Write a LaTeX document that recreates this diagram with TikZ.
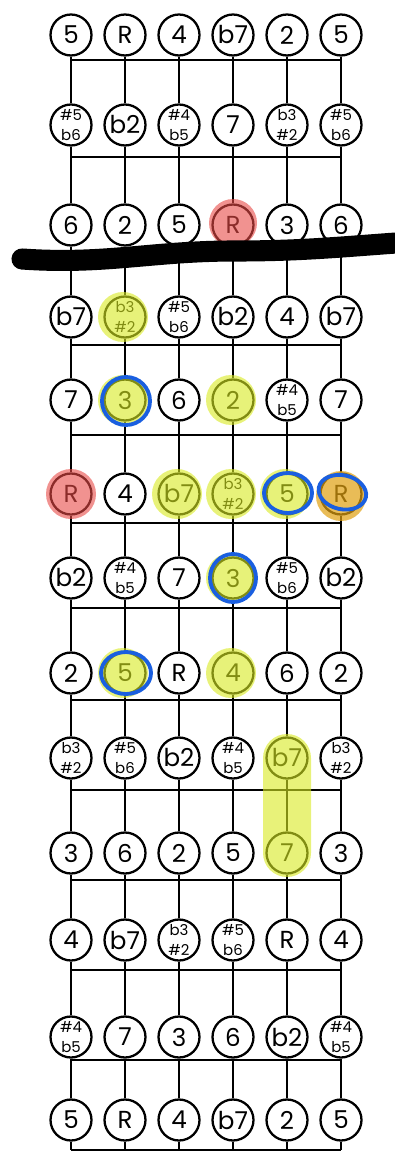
\documentclass[tikz,border=0pt]{standalone}
\usepackage{fontspec}
\setmainfont{Poppins}
\usetikzlibrary{calc}
\definecolor{hlyel}{HTML}{D8EA20}
\definecolor{hlred}{HTML}{E84A46}
\definecolor{hlorg}{HTML}{E0A010}
\definecolor{pen}{HTML}{1A5FE0}
\newcommand\sm{\fontsize{8.5}{9}\selectfont}
\newcommand\two[2]{{\sm#1}\\[-3pt]{\sm#2}}

\begin{document}
\begin{tikzpicture}[
  x=0.02cm, y=-0.02cm,
  note/.style={circle, draw, line width=1.3pt, fill=white, minimum size=0.82cm,
               inner sep=0pt, align=center, font=\fontsize{14}{14}\selectfont},
  str/.style={line width=0.85pt},
  fret/.style={line width=0.85pt},
  nut/.style={line width=12pt, line cap=round},
  hly/.style={fill=hlyel, fill opacity=0.6},
  hlr/.style={fill=hlred, fill opacity=0.6},
  hlo/.style={fill=hlorg, fill opacity=0.7},
  ring/.style={draw=pen, line width=2.2pt},
]
  \useasboundingbox (0,0) rectangle (395,1155);

  % frets
  \foreach \fy in {60,157,345,435,523,608,700,790,880,970,1060}
    \draw[fret] (71,\fy) -- (341,\fy);

  % notes, row by row
  \foreach \y/\labs [count=\r] in {
      35/{5,R,4,b7,2,5},
      125/{\two{\#5}{b6},b2,\two{\#4}{b5},7,\two{b3}{\#2},\two{\#5}{b6}},
      225/{6,2,5,R,3,6},
      317/{b7,\two{b3}{\#2},\two{\#5}{b6},b2,4,b7},
      400/{7,3,6,2,\two{\#4}{b5},7},
      494/{R,4,b7,\two{b3}{\#2},5,R},
      578/{b2,\two{\#4}{b5},7,3,\two{\#5}{b6},b2},
      673/{2,5,R,4,6,2},
      758/{\two{b3}{\#2},\two{\#5}{b6},b2,\two{\#4}{b5},b7,\two{b3}{\#2}},
      853/{3,6,2,5,7,3},
      940/{4,b7,\two{b3}{\#2},\two{\#5}{b6},R,4},
      1037/{\two{\#4}{b5},7,3,6,b2,\two{\#4}{b5}},
      1120/{5,R,4,b7,2,5}}{
    \foreach \lab [count=\s] in \labs
      \node[note] (n-\r-\s) at ({17+54*\s},\y) {\lab};
  }

  % strings
  \foreach \s in {1,...,6}{
    \foreach \r [evaluate=\r as \rn using int(\r+1)] in {1,...,12}
      \draw[str] (n-\r-\s) -- (n-\rn-\s);
    \coordinate (b-\s) at ({17+54*\s},1150);
    \draw[str] (n-13-\s) -- (b-\s);
  }
  \draw[fret] (b-1) -- (b-6);

  % highlighter
  \fill[hlr] ($(n-3-4)+(0,-2)$) circle (24);
  \fill[hlr] (n-6-1) circle (25);
  \fill[hlo] ($(n-6-6)+(0,2)$) circle (25);
  \foreach \r/\s in {4/2,5/2,5/4,6/3,6/4,6/5,7/4,8/2,8/4}
    \fill[hly] ($(n-\r-\s)+(-2,0)$) circle (25);
  \fill[hly, rounded corners=0.48cm]
    ($(n-9-5)+(-24,-24)$) rectangle ($(n-10-5)+(24,24)$);

  % pen rings
  \draw[ring] ($(n-5-2)+(1,1)$) ellipse (24 and 24);
  \draw[ring] ($(n-6-5)+(1,-1)$) ellipse (24 and 20);
  \draw[ring, rotate around={-12:(n-6-6)}] ($(n-6-6)+(1,-2)$) ellipse (24 and 17);
  \draw[ring] ($(n-7-4)+(0,0)$) ellipse (23 and 24);
  \draw[ring] ($(n-8-2)+(1,0)$) ellipse (25 and 21);

  % nut
  \draw[nut] (22,259) to[out=-4,in=180] (235,251) to[out=0,in=184] (410,242);
\end{tikzpicture}
\end{document}
